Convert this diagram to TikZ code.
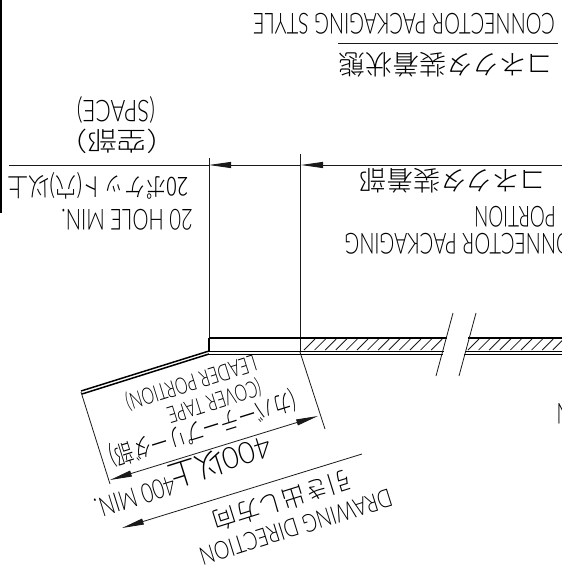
\documentclass[tikz,border=0pt]{standalone}
\usepackage{graphicx}
\usepackage{fontspec}
\setmainfont{Lato}[UprightFont=* Light]
\newfontfamily\cjk{Noto Sans CJK JP}[UprightFont=* Light]
\usetikzlibrary{arrows.meta}
\newcommand{\cad}[3]{\fontsize{#1}{#1}\selectfont\scalebox{#2}[1]{#3}}
\tikzset{
  lbl/.style={rotate=180,inner sep=0pt,text=black},
  lead/.style={rotate=197.4,inner sep=0pt,text=black},
  thinl/.style={line width=0.8pt,black!90},
  heavy/.style={line width=1.5pt,black},
  mid/.style={line width=1pt,black},
  dimtip/.style={-{Triangle[length=22pt,width=6pt]},thinl},
  dimtips/.style={{Triangle[length=22pt,width=6pt]}-{Triangle[length=22pt,width=6pt]},thinl},
}
\begin{document}
\begin{tikzpicture}[x=1pt,y=-1pt]
\useasboundingbox (0,0) rectangle (562,579);
\clip (0,0) rectangle (562,579);
% coordinates
\coordinate (barA) at (1,0); \coordinate (barB) at (1,213);
\coordinate (ruleA) at (338,43); \coordinate (ruleB) at (558,43);
\coordinate (dimR) at (562,165); \coordinate (dimL) at (9,165);
\coordinate (e1a) at (209,158); \coordinate (e1b) at (209,340);
\coordinate (e2a) at (300,154); \coordinate (e2b) at (300,352);
\coordinate (t1) at (209,165); \coordinate (t2) at (301,165);
\coordinate (x1) at (81,392); \coordinate (x1b) at (110,484);
\coordinate (x2) at (300,352); \coordinate (x2b) at (325,429);
\coordinate (d1) at (110,480); \coordinate (d2) at (318,416);
\coordinate (dirA) at (362,454); \coordinate (dirB) at (122,528);
% frame rule and dimension lines
\draw[line width=1.4pt,black] (barA) -- (barB);
\draw[thinl] (ruleA) -- (ruleB);
\draw[thinl] (dimL) -- (t1);
\draw[dimtip] (t2) -- (t1);
\draw[dimtip] (dimR) -- (t2);
\draw[thinl] (e1a) -- (e1b);
\draw[thinl] (e2a) -- (e2b);
% strip
\draw[heavy] (209,338) -- (447,338);
\draw[heavy] (468,338) -- (562,338);
\draw[mid] (209,351) -- (444,351);
\draw[mid] (465,351) -- (562,351);
\draw[mid] (209,354) -- (443,354);
\draw[mid] (464,354) -- (562,354);
\draw[heavy] (209,338) -- (209,352);
% hatching
\foreach \xx in {304,314.6,...,436}{\draw[thinl] (\xx,350) -- (\xx+11,339);}
\foreach \xx in {468,478.6,...,560}{\draw[thinl] (\xx,350) -- (\xx+11,339);}
% break lines
\draw[thinl] (453,313) -- (436,376);
\draw[thinl] (476,313) -- (459,376);
% leader
\draw[line width=1.5pt,black] (209,351) -- (81,391);
\draw[line width=1.5pt,black] (209,354) -- (82,394);
\draw[thinl] (x1) -- (x1b);
\draw[thinl] (x2) -- (x2b);
\draw[dimtips] (d1) -- (d2);
\draw[dimtip] (dirA) -- (dirB);
% labels
\node[lbl] (ts) at (404,24) {\cad{29}{0.69}{CONNECTOR PACKAGING STYLE}};
\node[lbl] (tj) at (446,65) {\cad{27}{1}{\cjk コネクタ装着状態}};
\node[lbl] (pj) at (453,181) {\cad{27}{1}{\cjk コネクタ装着部}};
\node[lbl] (pp) at (515,217) {\cad{29}{0.65}{PORTION}};
\node[lbl] (pc) at (465,244) {\cad{29}{0.69}{CONNECTOR PACKAGING}};
\node[lbl] (sp) at (116,110) {\cad{30}{0.75}{(SPACE)}};
\node[lbl] (sj) at (117,141) {\cad{26}{1.14}{\cjk （空部）}};
\node[lbl] (hj) at (98,186) {\cad{26}{0.8}{\cjk 20ポケット(穴)以上}};
\node[lbl] (he) at (127,220) {\cad{29}{0.7}{20 HOLE MIN.}};
\node[lead] (la) at (191,382) {\cad{23}{0.69}{LEADER PORTION)}};
\node[lead] (lb) at (214,401) {\cad{23}{0.69}{(COVER TAPE}};
\node[lead] (lc) at (203,428) {\cad{25}{0.74}{\cjk (カバーテープリーダ部)}};
\node[lead] (ma) at (220,462) {\cad{30}{0.95}{400{\cjk 以上}}};
\node[lead] (mb) at (135,497) {\cad{27}{0.74}{400 MIN.}};
\node[lead] (da) at (282,501) {\cad{24}{1}{\cjk 引き出し方向}};
\node[lead] (db) at (296,527) {\cad{25}{0.78}{DRAWING DIRECTION}};
\node[lbl] (nf) at (564,414) {\cad{29}{0.69}{N}};
\end{tikzpicture}
\end{document}
